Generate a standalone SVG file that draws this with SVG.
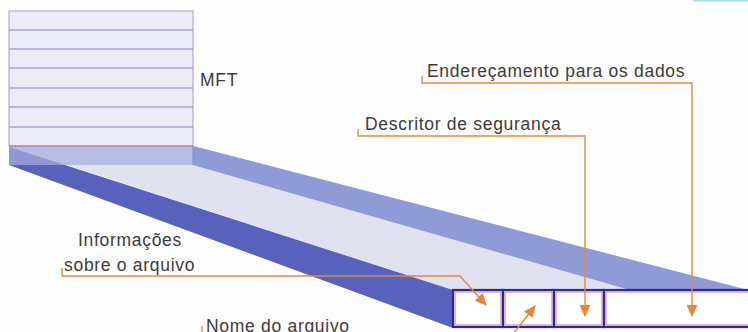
<svg xmlns="http://www.w3.org/2000/svg" width="748" height="332" viewBox="0 0 748 332">
  <style>
    .lbl { font-family: "Liberation Sans", Arial, sans-serif; font-size: 17.5px; letter-spacing: 0.7px; fill: #3c3c3c; }
    .lead { fill: none; stroke: #e8873f; stroke-width: 1.4; }
    .mftline { stroke: #8a7fc8; stroke-width: 1; }
    .cell { fill: #ffffff; stroke: #2e2c88; stroke-width: 2.2; }
    .cellin { fill: none; stroke: #c04aa8; stroke-width: 0.8; }
  </style>
  <defs>
    <marker id="arr" markerUnits="userSpaceOnUse" markerWidth="12" markerHeight="11" refX="11" refY="5.5" orient="auto">
      <path d="M0,0 L12,5.5 L0,11 Z" fill="#ea8538"/>
    </marker>
  </defs>
  <rect x="0" y="0" width="748" height="332" fill="#fdfdfd"/>
  <rect x="693" y="0" width="55" height="1.5" fill="#a6dcee"/>

  <g id="slab">
    <polygon points="9,146 193,146 748,290 453,290" fill="#e0e2f1"/>
    <polygon points="9,146 193,146 748,290 630,290 193,165 9,165" fill="#8e9bd6"/>
    <polygon points="9,147 453,290 453,328 9,165" fill="#5862bc"/>
  </g>

  <g id="mft">
    <rect x="9" y="11" width="184" height="135" fill="#ececf6" stroke="#a99ad0" stroke-width="1"/>
    <rect x="9" y="146" width="184" height="19" fill="#ffffff" fill-opacity="0.35"/>
    <line x1="193" y1="146" x2="193" y2="165" stroke="#8a86c8" stroke-width="1"/>
    <line class="mftline" x1="9" y1="30" x2="193" y2="30"/>
    <line class="mftline" x1="9" y1="49" x2="193" y2="49"/>
    <line class="mftline" x1="9" y1="68" x2="193" y2="68"/>
    <line class="mftline" x1="9" y1="88" x2="193" y2="88"/>
    <line class="mftline" x1="9" y1="107" x2="193" y2="107"/>
    <line class="mftline" x1="9" y1="127" x2="193" y2="127"/>
    <line x1="9" y1="146" x2="193" y2="146" stroke="#b8609c" stroke-width="1"/>
    <text class="lbl" x="200" y="86">MFT</text>
  </g>

  <g id="record">
    <rect class="cell" x="453" y="290" width="50" height="37"/>
    <rect class="cell" x="503" y="290" width="51" height="37"/>
    <rect class="cell" x="554" y="290" width="50" height="37"/>
    <rect class="cell" x="604" y="290" width="150" height="37"/>
    <rect class="cellin" x="455" y="292" width="46" height="33"/>
    <rect class="cellin" x="505" y="292" width="47" height="33"/>
    <rect class="cellin" x="556" y="292" width="46" height="33"/>
    <rect class="cellin" x="606" y="292" width="146" height="33"/>
  </g>

  <g id="label-enderecamento">
    <text class="lbl" x="427" y="77">Endereçamento para os dados</text>
  </g>
  <g id="label-descritor">
    <text class="lbl" x="365" y="130">Descritor de segurança</text>
  </g>
  <g id="label-informacoes">
    <text class="lbl" x="78" y="246">Informações</text>
    <text class="lbl" x="64" y="271">sobre o arquivo</text>
  </g>
  <g id="label-nome">
    <text class="lbl" x="206" y="332">Nome do arquivo</text>
  </g>

  <g id="connectors">
    <path class="lead" d="M422,76 L422,83 L692,83 L692,316" marker-end="url(#arr)"/>
    <path class="lead" d="M358,129 L358,136 L585,136 L585,316" marker-end="url(#arr)"/>
    <path class="lead" d="M62,268 L62,276 L460,276 L486,305" marker-end="url(#arr)"/>
    <path class="lead" d="M202,326 L202,338 L510,338 L535,306" marker-end="url(#arr)"/>
  </g>
</svg>
